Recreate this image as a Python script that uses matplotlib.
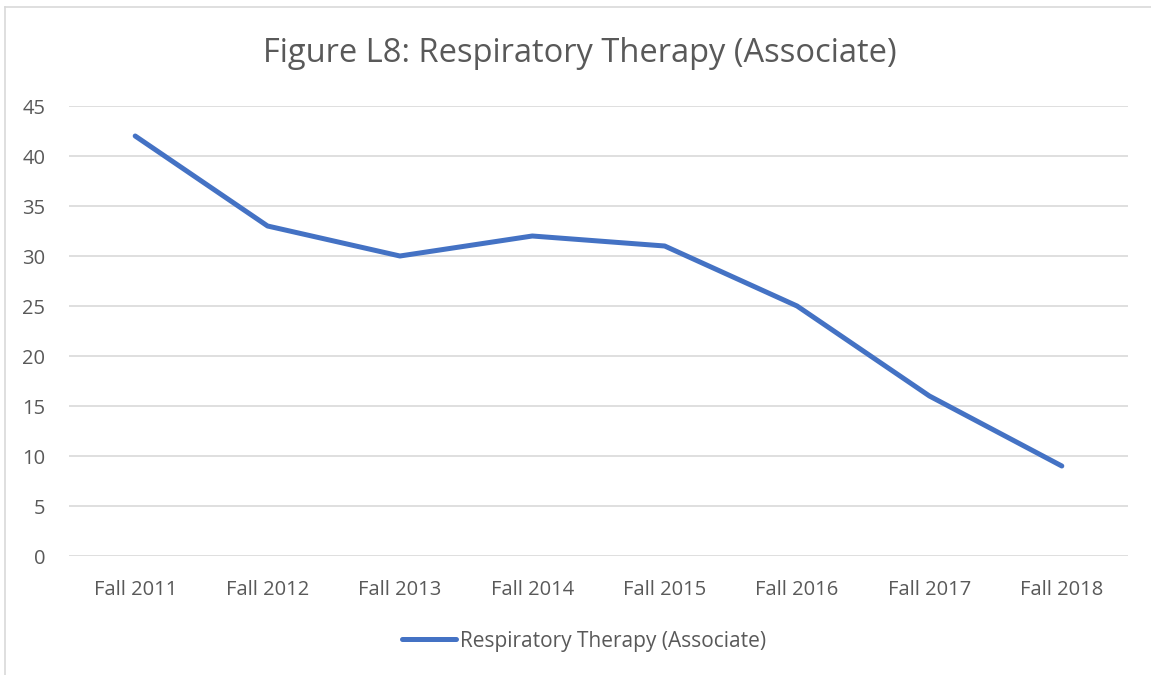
import matplotlib
matplotlib.use("Agg")
import matplotlib.pyplot as plt
from matplotlib.lines import Line2D

categories = ["Fall 2011", "Fall 2012", "Fall 2013", "Fall 2014",
              "Fall 2015", "Fall 2016", "Fall 2017", "Fall 2018"]
values = [42, 33, 30, 32, 31, 25, 16, 9]
series_name = "Respiratory Therapy (Associate)"
yticks = [0, 5, 10, 15, 20, 25, 30, 35, 40, 45]

plt.rcParams['font.family'] = ['Open Sans', 'DejaVu Sans']
text_col = '#595959'

W, H = 1151, 675
fig = plt.figure(figsize=(W / 100, H / 100), dpi=100)
ax = fig.add_axes([69 / W, 1 - 556 / H, (1128 - 69) / W, (556 - 106) / H])

x = list(range(len(categories)))
ax.plot(x, values, color='#4472C4', linewidth=3.6, solid_capstyle='round',
        solid_joinstyle='round', label=series_name)

ax.set_xlim(-0.5, len(categories) - 0.5)
ax.set_ylim(0, 45)
ax.set_yticks(yticks)
ax.set_xticks(x)
ax.set_xticklabels(categories)
ax.grid(axis='y', color='#d9d9d9', linewidth=1.2)
ax.set_axisbelow(True)
for s in ax.spines.values():
    s.set_visible(False)
ax.tick_params(length=0, labelsize=14.5, labelcolor=text_col)
ax.tick_params(axis='x', pad=17)
ax.tick_params(axis='y', pad=17)

fig.text(580 / W, 1 - 53 / H, "Figure L8: Respiratory Therapy (Associate)",
         ha='center', va='center', fontsize=23.5, color=text_col)

handle = Line2D([0], [0], color='#4472C4', linewidth=3.6, solid_capstyle='round')
fig.legend([handle], [series_name], loc='center', bbox_to_anchor=(584 / W, 1 - 641 / H),
           frameon=False, fontsize=15, labelcolor=text_col, handlelength=2.6,
           handletextpad=0.15)

# chart border (top and left only visible)
fig.add_artist(Line2D([5 / W, 1], [1 - 7 / H, 1 - 7 / H], color='#d9d9d9', linewidth=1.2))
fig.add_artist(Line2D([5 / W, 5 / W], [0, 1 - 7 / H], color='#d9d9d9', linewidth=1.2))

fig.savefig("out.png", dpi=100, facecolor='white')
